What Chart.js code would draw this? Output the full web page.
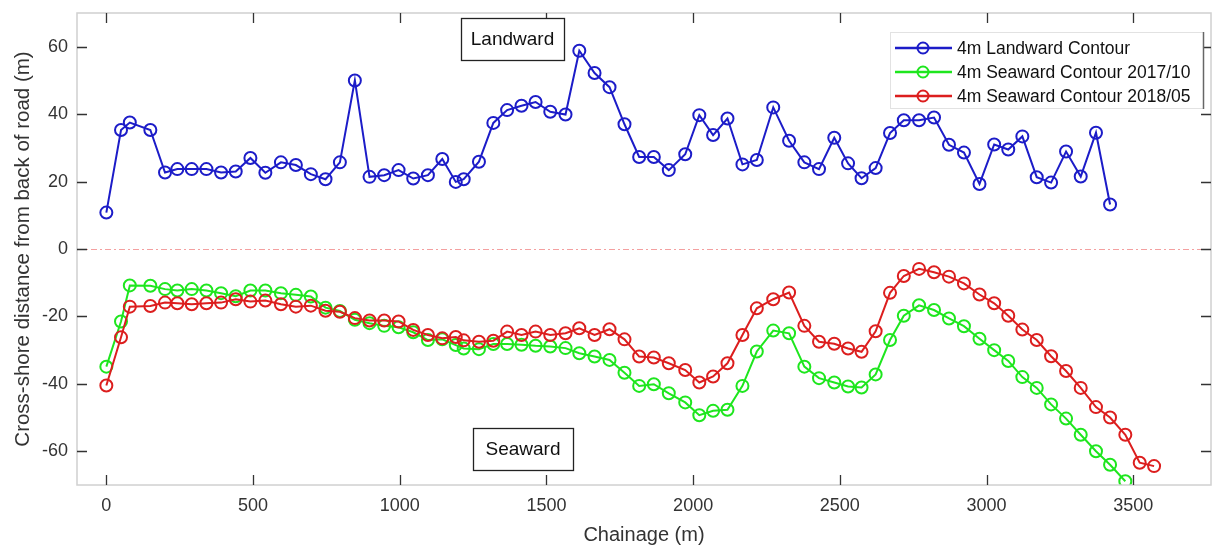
<!DOCTYPE html>
<html><head><meta charset="utf-8">
<script src="https://cdn.jsdelivr.net/npm/chart.js@4/dist/chart.umd.min.js"></script>
<style>html,body{margin:0;padding:0;background:#fff;}#wrap{width:1219px;height:547px;}</style>
</head><body><div id="wrap"><canvas id="c" width="1219" height="547"></canvas></div>
<script>
const chainage = [0,50,80,150,200,242,291,341,391,441,491,542,595,646,697,747,796,847,897,947,996,1046,1096,1145,1191,1218,1270,1319,1366,1415,1463,1513,1565,1612,1664,1715,1766,1816,1866,1917,1973,2021,2068,2117,2168,2217,2273,2327,2379,2429,2481,2528,2574,2622,2671,2718,2770,2821,2872,2923,2976,3026,3074,3122,3171,3220,3271,3321,3373,3421,3473,3522,3571];
const landward = [10.8,35.3,37.5,35.3,22.7,23.7,23.7,23.7,22.7,23,27,22.6,25.7,24.9,22.2,20.7,25.7,50,21.4,21.9,23.4,20.9,21.9,26.7,19.9,20.7,25.9,37.4,41.2,42.5,43.6,40.7,39.9,58.8,52.2,48,37,27.3,27.3,23.4,28.1,39.7,33.8,38.7,25.1,26.4,42,32.1,25.7,23.7,33,25.4,21,24,34.4,38.2,38.2,39,30.9,28.6,19.3,31,29.5,33.4,21.3,19.7,28.9,21.5,34.5,13.2];
const seaward2017 = [-34.9,-21.5,-10.8,-10.9,-11.9,-12.3,-11.9,-12.3,-13.1,-14,-12.3,-12.3,-13.1,-13.6,-14.1,-17.4,-18.4,-21,-22,-22.8,-23.2,-24.7,-27,-26.8,-28.5,-29.5,-29.7,-28.2,-28.2,-28.4,-28.7,-28.9,-29.4,-30.9,-31.9,-32.9,-36.7,-40.6,-40.1,-42.8,-45.5,-49.3,-48,-47.7,-40.6,-30.4,-24.2,-25,-34.9,-38.3,-39.6,-40.8,-41.1,-37.2,-27,-19.8,-16.7,-18.1,-20.6,-22.9,-26.6,-30,-33.2,-38,-41.2,-46.1,-50.3,-55.1,-60,-64,-68.9];
const seaward2018 = [-40.5,-26.2,-17.1,-16.9,-15.9,-16.1,-16.4,-16.1,-15.9,-14.9,-15.6,-15.3,-16.4,-17.1,-16.8,-18.3,-18.6,-20.5,-21.2,-21.2,-21.5,-24,-25.5,-26.5,-26.1,-27.1,-27.5,-27.2,-24.5,-25.5,-24.5,-25.5,-25,-23.5,-25.5,-23.8,-26.8,-31.9,-32.2,-33.9,-35.9,-39.6,-37.8,-33.9,-25.5,-17.6,-14.9,-12.9,-22.8,-27.5,-28.1,-29.5,-30.5,-24.4,-13,-8,-5.9,-6.9,-8.2,-10.2,-13.5,-16.1,-19.8,-23.9,-27,-31.8,-36.2,-41.2,-46.9,-50,-55.1,-63.4,-64.4];
const seriesLabels = ['4m Landward Contour','4m Seaward Contour 2017/10','4m Seaward Contour 2018/05'];
const xTicks = [0,500,1000,1500,2000,2500,3000,3500];
const yTicks = [-60,-40,-20,0,20,40,60];
const notes = ['Landward','Seaward'];

const COLORS = ['#1c1cc8','#1ee61e','#dc1e1e'];
const FONT = '"Liberation Sans", Arial, sans-serif';
const toPts = (vals) => vals.map((v,i)=>({x:chainage[i], y:v}));

const decor = {
  id:'decor',
  beforeDatasetsDraw(chart){
    const {ctx, chartArea:a, scales:{y}} = chart;
    ctx.save();
    const y0 = Math.round(y.getPixelForValue(0));
    ctx.strokeStyle = '#f4a0a0';
    ctx.lineWidth = 1;
    ctx.setLineDash([6,3,2,3]);
    ctx.beginPath(); ctx.moveTo(a.left, y0+0.5); ctx.lineTo(a.right, y0+0.5); ctx.stroke();
    ctx.restore();
  },
  afterDraw(chart){
    const {ctx, chartArea:a, scales:{x,y}} = chart;
    ctx.save();
    ctx.strokeStyle = '#d0d0d0'; ctx.lineWidth = 1.5;
    ctx.strokeRect(a.left, a.top, a.right-a.left, a.bottom-a.top);
    ctx.strokeStyle = '#333'; ctx.lineWidth = 1.3;
    const L = 10;
    xTicks.forEach(t=>{
      const px = Math.round(x.getPixelForValue(t))+0.5;
      ctx.beginPath(); ctx.moveTo(px, a.bottom); ctx.lineTo(px, a.bottom-L);
      ctx.moveTo(px, a.top); ctx.lineTo(px, a.top+L); ctx.stroke();
    });
    yTicks.forEach(t=>{
      const py = Math.round(y.getPixelForValue(t))+0.5;
      ctx.beginPath(); ctx.moveTo(a.left, py); ctx.lineTo(a.left+L, py);
      ctx.moveTo(a.right, py); ctx.lineTo(a.right-L, py); ctx.stroke();
    });
    ctx.font = '19px '+FONT; ctx.textAlign='center'; ctx.textBaseline='middle';
    const box = (txt, x0, y0, w, h)=>{
      ctx.fillStyle='#fff'; ctx.fillRect(x0, y0, w, h);
      ctx.strokeStyle='#222'; ctx.lineWidth=1.3; ctx.strokeRect(x0+0.5, y0+0.5, w, h);
      ctx.fillStyle='#111'; ctx.fillText(txt, x0+w/2, y0+h/2+1);
    };
    box(notes[0], 461, 18, 103, 42);
    box(notes[1], 473, 428, 100, 42);
    const lx=890, ly=32, lw=313, lh=76;
    ctx.fillStyle='#fff'; ctx.fillRect(lx,ly,lw,lh);
    ctx.strokeStyle='#e2e2e2'; ctx.lineWidth=1; ctx.strokeRect(lx+0.5,ly+0.5,lw,lh);
    ctx.strokeStyle='#666'; ctx.lineWidth=1.5; ctx.beginPath(); ctx.moveTo(lx+lw+0.5,ly); ctx.lineTo(lx+lw+0.5,ly+lh+1); ctx.stroke();
    ctx.textAlign='left'; ctx.font='17.5px '+FONT;
    seriesLabels.forEach((lab,i)=>{
      const ry = 48 + i*24;
      ctx.strokeStyle=COLORS[i]; ctx.lineWidth=2.5;
      ctx.beginPath(); ctx.moveTo(895, ry); ctx.lineTo(952, ry); ctx.stroke();
      ctx.lineWidth=2; ctx.beginPath(); ctx.arc(923, ry, 5.5, 0, Math.PI*2); ctx.stroke();
      ctx.fillStyle='#111'; ctx.fillText(lab, 957, ry+1);
    });
    ctx.restore();
  }
};

const ds = (label, vals, color, order) => ({
  label, data: toPts(vals), borderColor: color, backgroundColor: 'rgba(0,0,0,0)',
  pointBorderColor: color, pointBackgroundColor: 'rgba(0,0,0,0)',
  pointRadius: 6, pointBorderWidth: 2, borderWidth: 2, showLine: true, tension: 0, order
});

new Chart(document.getElementById('c'), {
  type: 'scatter',
  data: { datasets: [
    ds(seriesLabels[0], landward, COLORS[0], 0),
    ds(seriesLabels[1], seaward2017, COLORS[1], 2),
    ds(seriesLabels[2], seaward2018, COLORS[2], 1)
  ]},
  options: {
    responsive:false, animation:false, devicePixelRatio:1,
    layout:{padding:{left:0, top:13, right:8, bottom:0}},
    plugins:{legend:{display:false}, tooltip:{enabled:false}},
    scales:{
      x:{ type:'linear', min:-100, max:3765,
        afterFit(s){ s.height = 62; s.paddingLeft = 0; s.paddingRight = 0; },
        afterBuildTicks(s){ s.ticks = xTicks.map(v=>({value:v})); },
        grid:{display:false, drawTicks:false}, border:{display:false},
        ticks:{ font:{family:FONT, size:18}, color:'#333', padding:10, maxRotation:0, callback:v=>String(v) },
        title:{display:true, text:'Chainage (m)', font:{family:FONT, size:20}, color:'#333', padding:{top:0,bottom:0}}
      },
      y:{ type:'linear', min:-70, max:70,
        afterFit(s){ s.width = 77; s.paddingTop = 0; s.paddingBottom = 0; },
        afterBuildTicks(s){ s.ticks = yTicks.map(v=>({value:v})); },
        grid:{display:false, drawTicks:false}, border:{display:false},
        ticks:{ font:{family:FONT, size:18}, color:'#333', padding:9, callback:v=>String(v) },
        title:{display:true, text:'Cross-shore distance from back of road (m)', font:{family:FONT, size:20.5}, color:'#333', padding:{top:11,bottom:0}}
      }
    }
  },
  plugins:[decor]
});
</script></body></html>
